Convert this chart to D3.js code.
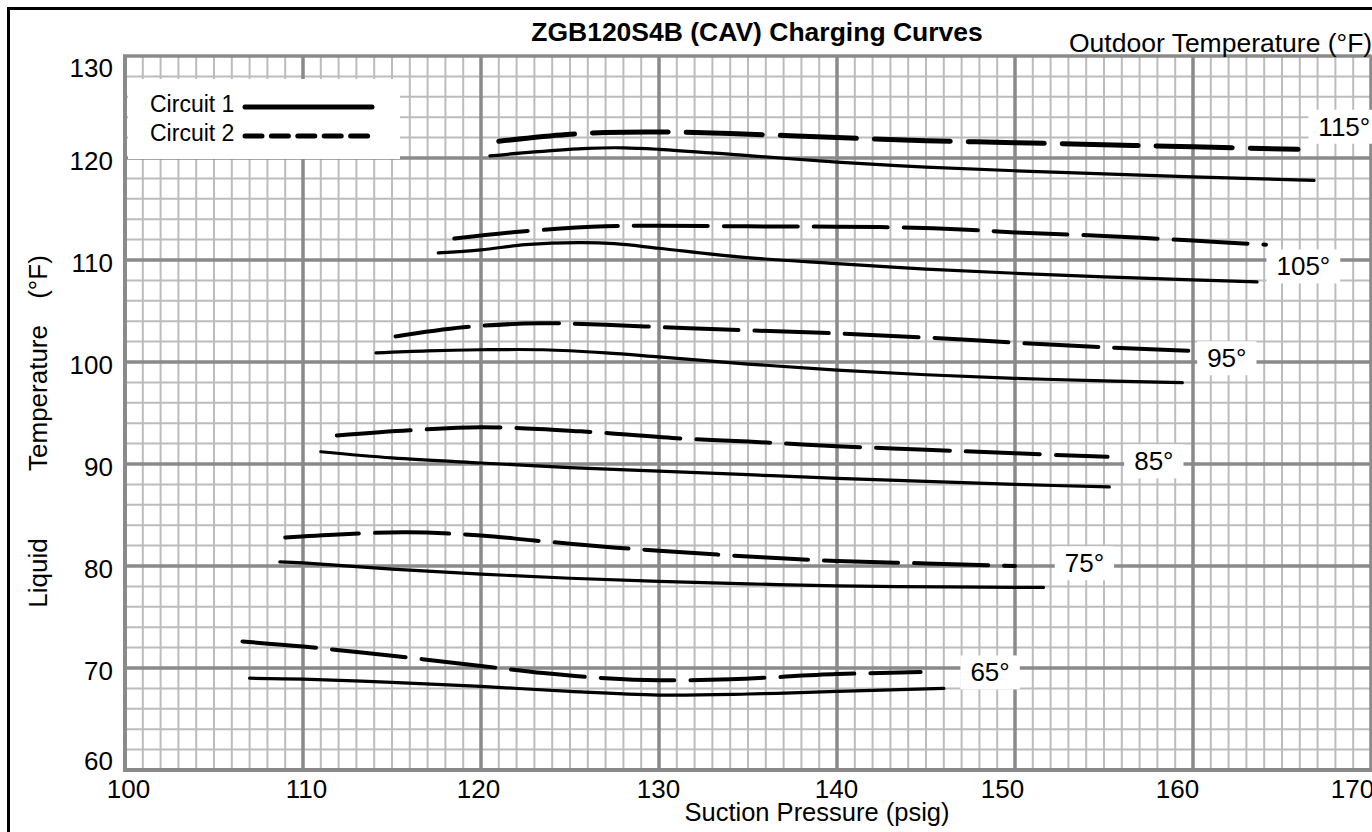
<!DOCTYPE html>
<html>
<head>
<meta charset="utf-8">
<script src="https://cdn.jsdelivr.net/npm/d3@7"></script>
<style>
  html, body { margin: 0; padding: 0; background: #fff; }
  svg { display: block; font-family: "Liberation Sans", Arial, sans-serif; }
</style>
</head>
<body>
<svg id="chart" width="1372" height="832"></svg>
<script>
// ---------------- DATA ----------------
const pressureTicks = [100, 110, 120, 130, 140, 150, 160, 170];
const temperatureTicks = [60, 70, 80, 90, 100, 110, 120, 130];
const outdoorLabels = ["65°", "75°", "85°", "95°", "105°", "115°"];
// label anchor points (suction pressure, liquid temperature)
const labelPressure = [148.6, 153.9, 157.8, 161.9, 166.2, 168.5];
const labelTemperature = [69.6, 80.3, 90.3, 100.4, 109.4, 123.1];

// Circuit 1 (solid) — [suction pressure psig, liquid temperature °F]
const circuit1_65 = [[107,69.0],[110,68.9],[115,68.6],[120,68.2],[125,67.7],[130,67.35],[135,67.45],[140,67.7],[146,68.0]];
const circuit1_75 = [[108.7,80.4],[110,80.3],[115,79.7],[120,79.2],[125,78.8],[130,78.5],[135,78.25],[140,78.05],[146,77.95],[151.6,77.9]];
const circuit1_85 = [[111,91.2],[115,90.6],[120,90.1],[125,89.65],[130,89.3],[135,88.95],[140,88.6],[145,88.3],[150,88.0],[155.3,87.75]];
const circuit1_95 = [[114.1,100.9],[117,101.1],[120,101.2],[123.5,101.2],[127,100.9],[130,100.5],[135,99.8],[140,99.2],[145,98.75],[150,98.4],[155,98.15],[159.4,97.97]];
const circuit1_105 = [[117.6,110.7],[120,111.0],[122.5,111.5],[125.5,111.7],[127.5,111.6],[130,111.15],[134.5,110.3],[140,109.65],[145,109.1],[150,108.7],[155,108.35],[160,108.05],[163.6,107.85]];
const circuit1_115 = [[120.5,120.2],[123,120.6],[126,120.95],[128,121.0],[130,120.85],[134.5,120.3],[140,119.6],[145,119.1],[150,118.75],[155,118.45],[160,118.15],[166.8,117.8]];

// Circuit 2 (dashed)
const circuit2_65 = [[106.6,72.6],[110,72.1],[115,71.2],[120,70.2],[123.5,69.5],[127,69.0],[130,68.8],[134,68.9],[140,69.4],[144.7,69.6]];
const circuit2_75 = [[109,82.8],[112,83.1],[115.8,83.3],[120,83.0],[123,82.5],[127.6,81.8],[130,81.5],[135.8,80.85],[140,80.5],[145,80.25],[150,80.0]];
const circuit2_85 = [[111.9,92.8],[116,93.3],[120,93.6],[125.6,93.2],[131.3,92.5],[135,92.2],[140,91.75],[145,91.4],[150,91.05],[155.2,90.7]];
const circuit2_95 = [[115.2,102.5],[119,103.4],[123.3,103.8],[127,103.65],[131.7,103.3],[135,103.1],[140,102.8],[145,102.4],[150,101.9],[155,101.45],[159.8,101.1]];
const circuit2_105 = [[118.5,112.1],[122.3,112.8],[127,113.3],[130,113.35],[135,113.3],[140,113.26],[143.5,113.2],[147,113.0],[150,112.7],[154.4,112.4],[160,111.9],[164.1,111.5]];
const circuit2_115 = [[121,121.65],[124.8,122.3],[127,122.5],[130,122.55],[134,122.4],[140,122.0],[145,121.7],[150,121.5],[155,121.3],[160,121.1],[165.9,120.85]];

const circuit1Curves = [circuit1_65, circuit1_75, circuit1_85, circuit1_95, circuit1_105, circuit1_115];
const circuit2Curves = [circuit2_65, circuit2_75, circuit2_85, circuit2_95, circuit2_105, circuit2_115];

// ---------------- DRAW ----------------
const svg = d3.select("#chart");
const W = 1372, H = 832;

svg.append("rect").attr("width", W).attr("height", H).attr("fill", "#fff");

const x = d3.scaleLinear().domain([100, 170]).range([125, 1371]);
const y = d3.scaleLinear().domain([60, 130]).range([770, 56]);

const MAJOR = "#8a8a8a", MINOR = "#bcbcbc";
const grid = svg.append("g");

// minor grid
grid.selectAll("line.vminor").data(d3.range(100, 171, 1).filter(v => v % 10 !== 0))
  .join("line").attr("x1", d => x(d)).attr("x2", d => x(d))
  .attr("y1", y(130)).attr("y2", y(60)).attr("stroke", MINOR).attr("stroke-width", 2);
grid.selectAll("line.hminor").data(d3.range(60, 131, 2).filter(v => v % 10 !== 0))
  .join("line").attr("y1", d => y(d)).attr("y2", d => y(d))
  .attr("x1", x(100)).attr("x2", x(170)).attr("stroke", MINOR).attr("stroke-width", 2);
// major grid
grid.selectAll("line.vmajor").data(pressureTicks)
  .join("line").attr("x1", d => x(d)).attr("x2", d => x(d))
  .attr("y1", y(130) - 1).attr("y2", y(60) + 2).attr("stroke", MAJOR)
  .attr("stroke-width", d => d === 100 ? 4 : 3.5);
grid.selectAll("line.hmajor").data(temperatureTicks)
  .join("line").attr("y1", d => y(d)).attr("y2", d => y(d))
  .attr("x1", x(100) - 2).attr("x2", x(170)).attr("stroke", MAJOR)
  .attr("stroke-width", d => d === 60 ? 4 : 3.5);

// Legend box
const lg = svg.append("g");
lg.append("rect").attr("x", 128).attr("y", 79).attr("width", 272).attr("height", 80).attr("fill", "#fff");
lg.append("text").attr("x", 150).attr("y", 112).attr("font-size", 23).text("Circuit 1");
lg.append("text").attr("x", 150).attr("y", 141).attr("font-size", 23).text("Circuit 2");
lg.append("line").attr("x1", 245).attr("x2", 372).attr("y1", 107).attr("y2", 107)
  .attr("stroke", "#000").attr("stroke-width", 5).attr("stroke-linecap", "round");
lg.append("line").attr("x1", 245).attr("x2", 372).attr("y1", 136).attr("y2", 136)
  .attr("stroke", "#000").attr("stroke-width", 5).attr("stroke-linecap", "round")
  .attr("stroke-dasharray", "17,9.4");

// Curve labels with white boxes
const labG = svg.append("g");
outdoorLabels.forEach((t, i) => {
  const g = labG.append("g");
  const txt = g.append("text")
    .attr("x", x(labelPressure[i])).attr("y", y(labelTemperature[i]))
    .attr("text-anchor", "middle").attr("dy", "0.36em")
    .attr("font-size", 26).text(t);
  const bb = txt.node().getBBox();
  g.insert("rect", "text").attr("x", bb.x - 10).attr("y", bb.y - 2)
    .attr("width", bb.width + 20).attr("height", bb.height + 4).attr("fill", "#fff");
});

// Curves
const line = d3.line().x(d => x(d[0])).y(d => y(d[1])).curve(d3.curveCatmullRom.alpha(0.5));
const cg = svg.append("g").attr("fill", "none").attr("stroke", "#000").attr("stroke-linecap", "round");
cg.selectAll("path.c1").data(circuit1Curves).join("path")
  .attr("d", line).attr("stroke-width", 3.2);
cg.selectAll("path.c2").data(circuit2Curves).join("path")
  .attr("d", line)
  .attr("stroke-width", (d, i) => i === 5 ? 5 : 4)
  .attr("stroke-dasharray", (d, i) => i === 5 ? "76,18" : "74,16");

// Axes
const yAxis = d3.axisLeft(y).tickValues(temperatureTicks).tickSize(0).tickPadding(12);
const yg = svg.append("g").attr("transform", "translate(125,0)").call(yAxis);
yg.select(".domain").remove();
yg.selectAll("text").attr("font-size", 26).attr("fill", "#000")
  .style("font-family", "'Liberation Sans', Arial, sans-serif")
  .attr("dy", d => d === 60 ? "-0.02em" : d === 130 ? "0.8em" : "0.43em");

const xShift = {100: 3, 110: 3, 120: -3, 130: -1, 140: -1, 150: -13, 160: -16, 170: -19};
const xAxis = d3.axisBottom(x).tickValues(pressureTicks).tickSize(0).tickPadding(9.5);
const xg = svg.append("g").attr("transform", "translate(0,770)").call(xAxis);
xg.select(".domain").remove();
xg.selectAll("text").attr("font-size", 26).attr("fill", "#000")
  .style("font-family", "'Liberation Sans', Arial, sans-serif")
  .attr("dx", d => xShift[d]);

// Titles
svg.append("text").attr("x", 757).attr("y", 41).attr("text-anchor", "middle")
  .attr("font-size", 26.5).attr("font-weight", "bold").text("ZGB120S4B (CAV) Charging Curves");
svg.append("text").attr("x", 1069).attr("y", 52).attr("font-size", 26.5)
  .text("Outdoor Temperature (°F)");
svg.append("text").attr("x", 817).attr("y", 821).attr("text-anchor", "middle")
  .attr("font-size", 25.5).text("Suction Pressure (psig)");

const yTitle = [["Liquid", 573], ["Temperature", 398], ["(°F)", 277]];
yTitle.forEach(([t, cy]) => {
  svg.append("text").attr("transform", `translate(47,${cy}) rotate(-90)`)
    .attr("text-anchor", "middle").attr("font-size", 26).text(t);
});

// Outer border
svg.append("rect").attr("x", 8.5).attr("y", 8.5).attr("width", 1400).attr("height", 900)
  .attr("fill", "none").attr("stroke", "#000").attr("stroke-width", 3);
</script>
</body>
</html>
